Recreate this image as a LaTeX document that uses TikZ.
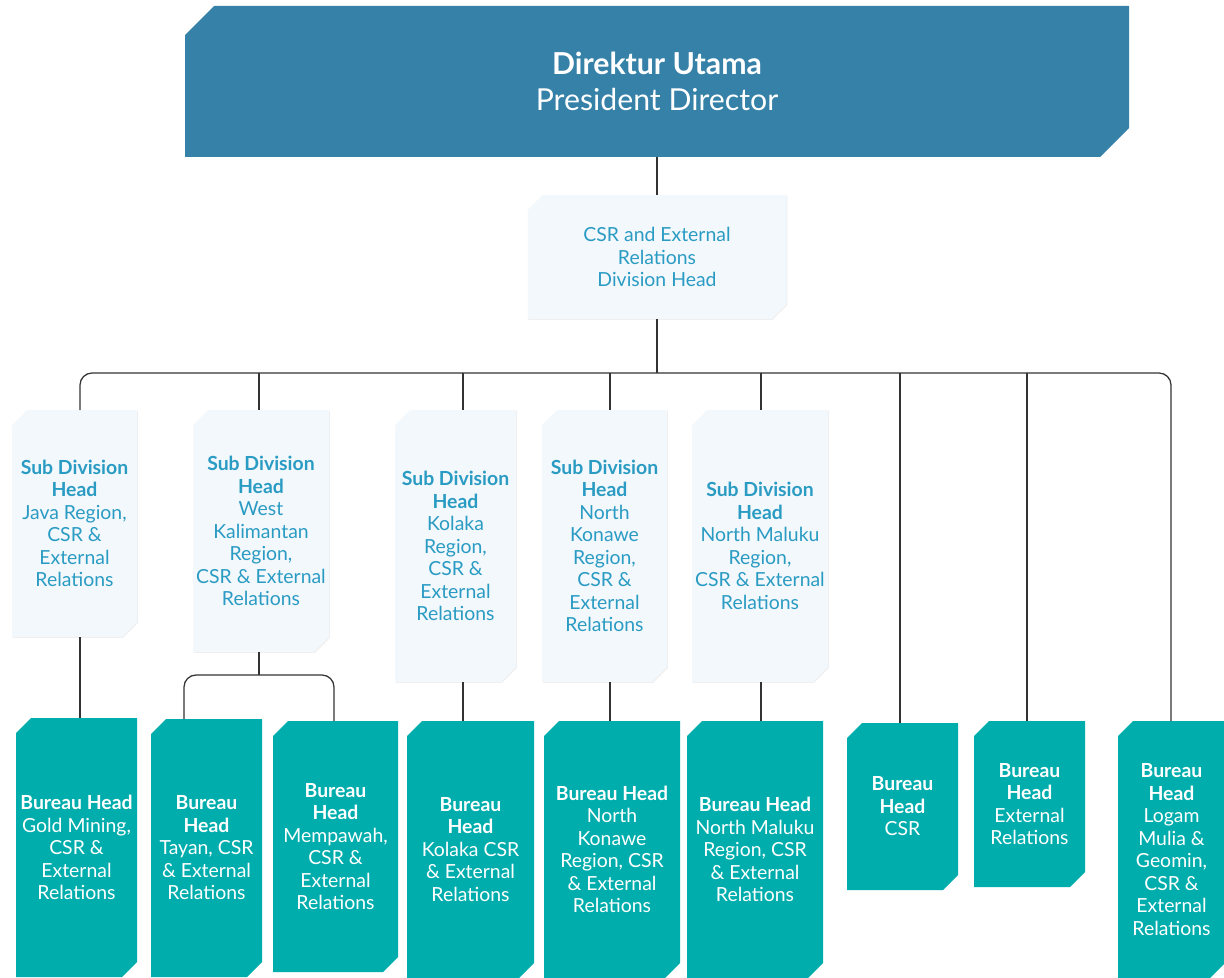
\documentclass[tikz,border=0pt]{standalone}
\usepackage{fontspec}
\setmainfont{Lato}
\usetikzlibrary{backgrounds,shadows}

\definecolor{chiefblue}{RGB}{53,129,168}
\definecolor{bureauteal}{RGB}{0,173,173}
\definecolor{paleblue}{RGB}{243,248,252}
\definecolor{labelblue}{RGB}{42,155,195}
\definecolor{linegray}{RGB}{51,51,51}

% box with the top left and bottom right corners cut off
\newcommand{\cutbox}[3]{%
  \fill[#3] ([yshift=-#2]#1.north west) -- ([xshift=#2]#1.north west) -- (#1.north east)
    -- ([yshift=#2]#1.south east) -- ([xshift=-#2]#1.south east) -- (#1.south west) -- cycle;}

\tikzset{
  card/.style={rectangle, outer sep=0pt, inner sep=1pt, align=center},
  chief/.style={card, text=white, font=\fontsize{21.5}{25.5}\selectfont},
  subbox/.style={card, text=labelblue, font=\fontsize{13.8}{16}\selectfont},
  bureau/.style={card, text=white, font=\fontsize{13.8}{16}\selectfont},
  palefill/.style={fill=paleblue, drop shadow={opacity=0.13, shadow xshift=0.7pt, shadow yshift=-0.7pt}},
  link/.style={draw=linegray, line width=0.9pt}
}

\begin{document}
\begin{tikzpicture}[x=0.025cm, y=-0.025cm]
  \useasboundingbox (0,0) rectangle (1224,978);

  % President Director and the division head
  \node[chief, minimum width=944*0.025cm, minimum height=151*0.025cm] (top) at (657,81.5)
    {\textbf{Direktur Utama}\\President Director};
  \node[subbox, minimum width=259*0.025cm, minimum height=124*0.025cm] (div) at (657,257)
    {CSR and External\\Relations\\Division Head};

  % Sub division heads
  \foreach \i/\x/\y/\w/\h/\txt in {
    1/74.5/523.5/125/227/{Java Region,\\CSR \&\\External\\Relations},
    2/261/531/136/242/{West\\Kalimantan\\Region,\\CSR \& External\\Relations},
    3/455.5/546/121/272/{Kolaka\\Region,\\CSR \&\\External\\Relations},
    4/604.5/546/125/272/{North\\Konawe\\Region,\\CSR \&\\External\\Relations},
    5/760/546/136/272/{North Maluku\\Region,\\CSR \& External\\Relations}} {
    \node[subbox, minimum width=\w*0.025cm, minimum height=\h*0.025cm] (sub\i) at (\x,\y)
      {\textbf{Sub Division}\\\textbf{Head}\\\txt};
  }

  % Bureau heads
  \foreach \i/\x/\y/\w/\h/\txt in {
    1/76.5/847.5/121/259/{\textbf{Bureau Head}\\Gold Mining,\\CSR \&\\External\\Relations},
    2/206.5/848/111/258/{\textbf{Bureau}\\\textbf{Head}\\Tayan, CSR\\\& External\\Relations},
    3/335.5/846.5/125/251/{\textbf{Bureau}\\\textbf{Head}\\Mempawah,\\CSR \&\\External\\Relations},
    4/470.5/849.5/127/257/{\textbf{Bureau}\\\textbf{Head}\\Kolaka CSR\\\& External\\Relations},
    5/612/849.5/136/257/{\textbf{Bureau Head}\\North\\Konawe\\Region, CSR\\\& External\\Relations},
    6/755/849.5/136/257/{\textbf{Bureau Head}\\North Maluku\\Region, CSR\\\& External\\Relations},
    7/902.5/806.5/111/167/{\textbf{Bureau}\\\textbf{Head}\\CSR},
    8/1029.5/804/111/166/{\textbf{Bureau}\\\textbf{Head}\\External\\Relations},
    9/1171.5/849.5/107/257/{\textbf{Bureau}\\\textbf{Head}\\Logam\\Mulia \&\\Geomin,\\CSR \&\\External\\Relations}} {
    \node[bureau, minimum width=\w*0.025cm, minimum height=\h*0.025cm] (bur\i) at (\x,\y) {\txt};
  }

  % box fills go behind the text
  \begin{scope}[on background layer]
    \cutbox{top}{0.725cm}{chiefblue}
    \cutbox{div}{0.375cm}{palefill}
    \foreach \i in {1,...,5} {\cutbox{sub\i}{0.375cm}{palefill}}
    \foreach \i in {1,...,9} {\cutbox{bur\i}{0.375cm}{bureauteal}}
  \end{scope}

  % connector columns on the bus line
  \coordinate (bus) at (657,373);
  \foreach \n/\x in {1/80, 2/259, 3/463, 4/610, 5/761, 6/900, 7/1027, 8/1171}
    \coordinate (col\n) at (\x,373);
  \coordinate (fork) at (259,675);
  \coordinate (forkL) at (184,675);
  \coordinate (forkR) at (334,675);

  \draw[link] (top) -- (div);
  \draw[link] (div) -- (bus);
  \draw[link, rounded corners=0.3cm] (col1 |- sub1.north) -- (col1) -- (col8) -- (col8 |- bur9.north);
  \foreach \n in {2,3,4,5}
    \draw[link] (col\n) -- (col\n |- sub\n.north);
  \foreach \n/\b in {6/7, 7/8}
    \draw[link] (col\n) -- (col\n |- bur\b.north);
  \foreach \n/\b in {1/1, 3/4, 4/5, 5/6}
    \draw[link] (col\n |- sub\n.south) -- (col\n |- bur\b.north);

  % West Kalimantan splits into two bureaus
  \draw[link] (col2 |- sub2.south) -- (fork);
  \draw[link, rounded corners=0.3cm] (forkL |- bur2.north) -- (forkL) -- (forkR) -- (forkR |- bur3.north);
\end{tikzpicture}
\end{document}
